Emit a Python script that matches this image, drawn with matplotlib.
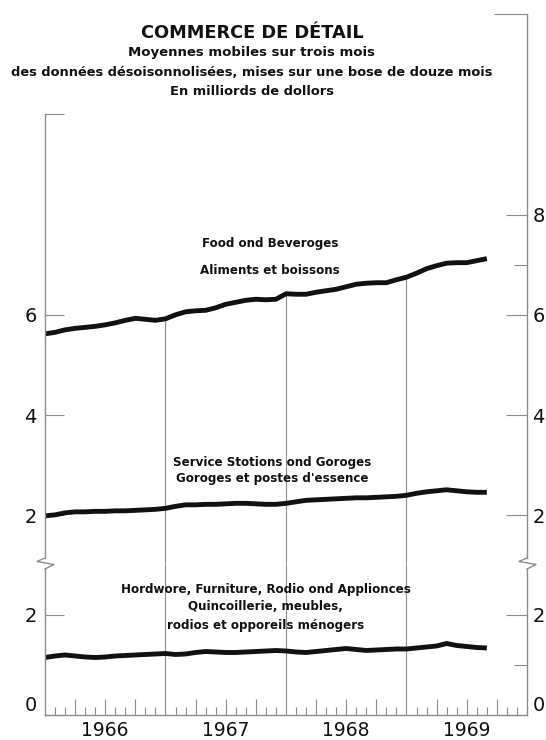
"""Retail trade chart: three-month moving averages, broken y scale."""
import matplotlib
matplotlib.use("Agg")
import matplotlib.pyplot as plt
from matplotlib.lines import Line2D
from matplotlib.transforms import ScaledTranslation

# month index, 0 = Jan 1966 ... 44 = Sep 1969
months = list(range(45))

food = [5.62, 5.65, 5.70, 5.73, 5.75, 5.77, 5.80, 5.84, 5.89, 5.93, 5.91, 5.89,
        5.92, 6.00, 6.06, 6.08, 6.09, 6.14, 6.21, 6.25, 6.29, 6.31, 6.30, 6.31,
        6.42, 6.41, 6.41, 6.45, 6.48, 6.51, 6.56, 6.61, 6.63, 6.64, 6.64, 6.70,
        6.75, 6.83, 6.92, 6.98, 7.03, 7.04, 7.04, 7.08, 7.12]

service = [1.99, 2.01, 2.05, 2.07, 2.07, 2.08, 2.08, 2.09, 2.09, 2.10, 2.11, 2.12,
           2.14, 2.18, 2.21, 2.21, 2.22, 2.22, 2.23, 2.24, 2.24, 2.23, 2.22, 2.22,
           2.24, 2.27, 2.30, 2.31, 2.32, 2.33, 2.34, 2.35, 2.35, 2.36, 2.37, 2.38,
           2.40, 2.44, 2.47, 2.49, 2.51, 2.49, 2.47, 2.46, 2.46]

hardware = [1.15, 1.18, 1.20, 1.18, 1.16, 1.15, 1.16, 1.18, 1.19, 1.20, 1.21, 1.22,
            1.23, 1.21, 1.22, 1.25, 1.27, 1.26, 1.25, 1.25, 1.26, 1.27, 1.28, 1.29,
            1.28, 1.26, 1.25, 1.27, 1.29, 1.31, 1.33, 1.31, 1.29, 1.30, 1.31, 1.32,
            1.32, 1.34, 1.36, 1.38, 1.43, 1.39, 1.37, 1.35, 1.34]

years = ["1966", "1967", "1968", "1969"]
year_starts = [12, 24, 36]

GREY = "#8c8c8c"
INK = "#111111"
LABEL_FONT = dict(family="DejaVu Sans", weight="bold", color=INK)

fig = plt.figure(figsize=(5.46, 7.40), dpi=100)
ax_lo = fig.add_axes([0.0824, 0.0338, 0.8828, 0.2054])
ax_hi = fig.add_axes([0.0824, 0.2392, 0.8828, 0.7419])
ax_hi_r = ax_hi.twinx()
ax_lo_r = ax_lo.twinx()

HI_LIM = (1.05, 12.0)
LO_LIM = (0.0, 3.04)

for ax, lim in ((ax_hi, HI_LIM), (ax_hi_r, HI_LIM), (ax_lo, LO_LIM), (ax_lo_r, LO_LIM)):
    ax.set_xlim(0, 48)
    ax.set_ylim(*lim)
    for side in ("top", "bottom", "left", "right"):
        ax.spines[side].set_visible(False)
        ax.spines[side].set_color(GREY)
        ax.spines[side].set_linewidth(1.0)
    ax.patch.set_visible(False)

# spines
ax_hi.spines["left"].set_visible(True)
ax_hi.spines["left"].set_bounds(1.15, 10)
ax_hi_r.spines["right"].set_visible(True)
ax_hi_r.spines["right"].set_bounds(1.15, 12)
ax_lo.spines["left"].set_visible(True)
ax_lo.spines["left"].set_bounds(0, 2.92)
ax_lo.spines["bottom"].set_visible(True)
ax_lo_r.spines["right"].set_visible(True)
ax_lo_r.spines["right"].set_bounds(0, 2.92)

# scale breaks
for xa in (0, 1):
    trans = fig.dpi_scale_trans + ScaledTranslation(xa, 1, ax_lo.transAxes)
    fig.add_artist(Line2D([0, -0.08, 0.09, 0], [0.05, 0.015, -0.015, -0.06],
                          transform=trans, color=GREY, lw=1.0))

# year dividers
ax_lo.vlines(year_starts, *LO_LIM, color=GREY, lw=0.8)
ax_hi.vlines(year_starts, HI_LIM[0], [food[m] for m in year_starts], color=GREY, lw=0.8)

# series
ax_hi.plot(months, food, color=INK, lw=3.5, solid_capstyle="butt")
ax_hi.plot(months, service, color=INK, lw=3.5, solid_capstyle="butt")
ax_lo.plot(months, hardware, color=INK, lw=3.5, solid_capstyle="butt")

# x ticks: quarter ticks long, month ticks short, years under mid-year
quarters = [m for m in range(1, 48) if m % 3 == 0 and m % 12 != 0]
others = [m for m in range(1, 48) if m % 3 != 0]
ax_lo.set_xticks(quarters)
ax_lo.set_xticklabels([years[m // 12] if m % 12 == 6 else "" for m in quarters])
ax_lo.set_xticks(others, minor=True)
ax_lo.tick_params(axis="x", which="major", direction="in", length=11.5, width=0.8,
                  color=GREY, labelsize=13.5, pad=4, labelcolor=INK)
ax_lo.tick_params(axis="x", which="minor", direction="in", length=5.8, width=0.8, color=GREY)
for ax in (ax_hi, ax_hi_r, ax_lo_r):
    ax.tick_params(axis="x", which="both", bottom=False, top=False,
                   labelbottom=False, labeltop=False)

# y ticks
ax_hi.set_yticks([2, 4, 6, 10])
ax_hi.set_yticklabels(["2", "4", "6", ""])
ax_hi_r.set_yticks([2, 4, 6, 8, 12])
ax_hi_r.set_yticklabels(["2", "4", "6", "8", ""])
ax_hi_r.set_yticks([7], minor=True)
ax_lo.set_yticks([0, 2])
ax_lo.set_yticklabels(["0", "2"])
ax_lo_r.set_yticks([0, 2])
ax_lo_r.set_yticklabels(["0", "2"])
ax_lo_r.set_yticks([1], minor=True)

for ax in (ax_hi, ax_lo):
    ax.tick_params(axis="y", which="major", direction="in", length=14, width=0.8,
                   color=GREY, labelsize=14, pad=6, labelcolor=INK)
for ax in (ax_hi_r, ax_lo_r):
    ax.tick_params(axis="y", which="major", direction="in", length=15, width=0.8,
                   color=GREY, labelsize=14, pad=4, labelcolor=INK)
    ax.tick_params(axis="y", which="minor", direction="in", length=9.4, width=0.8,
                   color=GREY)

ax_hi_r.yaxis.get_major_ticks()[-1].tick2line.set_markersize(24)
ax_lo.yaxis.get_major_ticks()[0].label1.set_verticalalignment("bottom")
ax_lo_r.yaxis.get_major_ticks()[0].label2.set_verticalalignment("bottom")

# series captions
CAP = 8.6
ax_hi.text(22.4, 7.43, "Food ond Beveroges", ha="center", va="center", fontsize=CAP, **LABEL_FONT)
ax_hi.text(22.4, 6.89, "Aliments et boissons", ha="center", va="center", fontsize=CAP, **LABEL_FONT)
ax_hi.text(22.6, 3.05, "Service Stotions ond Goroges", ha="center", va="center", fontsize=CAP,
           **LABEL_FONT)
ax_hi.text(22.6, 2.73, "Goroges et postes d'essence", ha="center", va="center", fontsize=CAP,
           **LABEL_FONT)
ax_lo.text(22.0, 2.50, "Hordwore, Furniture, Rodio ond Applionces", ha="center", va="center",
           fontsize=CAP, **LABEL_FONT)
ax_lo.text(22.0, 2.16, "Quincoillerie, meubles,", ha="center", va="center", fontsize=CAP,
           **LABEL_FONT)
ax_lo.text(22.0, 1.78, "rodios et opporeils ménogers", ha="center", va="center", fontsize=CAP,
           **LABEL_FONT)

# heading
fig.text(0.4615, 0.9554, "COMMERCE DE DÉTAIL", ha="center", va="center", fontsize=12.8,
         **LABEL_FONT)
fig.text(0.4615, 0.9297, "Moyennes mobiles sur trois mois", ha="center", va="center",
         fontsize=9.5, **LABEL_FONT)
fig.text(0.4615, 0.9027, "des données désoisonnolisées, mises sur une bose de douze mois",
         ha="center", va="center", fontsize=9.4, **LABEL_FONT)
fig.text(0.4615, 0.8770, "En milliords de dollors", ha="center", va="center", fontsize=9.4,
         **LABEL_FONT)

fig.savefig("out.png", dpi=100)
